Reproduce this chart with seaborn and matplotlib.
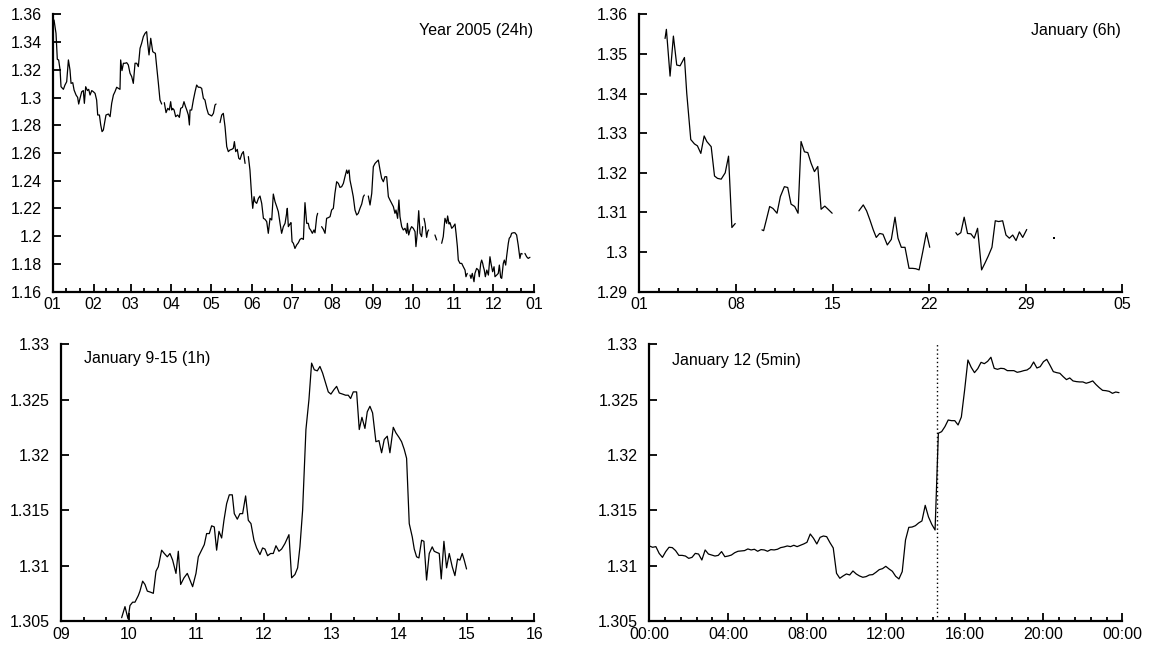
import numpy as np
import pandas as pd
import matplotlib
matplotlib.use("Agg")
import matplotlib.pyplot as plt
import seaborn as sns
from matplotlib.ticker import FuncFormatter

nan = np.nan

# ---------------- Panel 1: Year 2005, daily (day of year) ----------------
p1_day = [
    1.0, 2.5, 3.5, 4.5, 5.6, 6.3, 8.1, 9.3, 10.6, 11.9, 13.1, 13.9, 15.2, 16.2, 17.7, 18.9, 19.7, 20.7, 22.0, 23.2,
    24.0, 25.0, 26.3, 27.3, 28.3, 29.6, 30.8, 32.1, 33.3, 34.1, 35.4, 36.4, 37.4, 38.4, 39.7, 40.4, 42.2, 43.5, 44.7, 46.0,
    47.2, 48.5, 49.8, 51.0, 51.5, 52.5, 53.6, 54.8, 56.1, 57.3, 58.6, 59.9, 61.1, 62.4, 63.7, 64.9, 66.2, 67.4, 68.7, 70.0,
    71.2, 72.0, 73.0, 74.3, 75.8, 76.8, 77.8, 78.8, 80.1, 81.3, 82.6, nan,
    84.6, 85.9, 87.2, 88.4, 89.4, 90.2, 90.9, 92.0, 93.2, 94.7, 96.0, 97.0, 98.3, 99.5, 100.5, 101.6, 102.8, 103.6, 104.1, 105.3,
    106.6, 107.9, 109.1, 110.4, 111.7, 112.9, 114.2, 115.4, 116.7, 118.0, 119.2, 120.5, 121.8, 123.0, 123.8, nan,
    126.8, 128.1, 129.3, 130.6, 131.9, 133.1, 134.4, 135.7, 136.9, 137.7, 138.7, 139.9, 141.0, 142.0, 143.3, 144.5, 145.8, nan,
    148.3, 149.5, 150.8, 151.6, 152.6, 153.3, 154.6, 155.9, 157.1, 158.4, 159.7, 160.9, 162.2, 163.4, 164.7, 166.0, 167.2, 168.5, 169.8, 171.0,
    172.3, 173.5, 174.8, 176.1, 177.3, 177.8, 178.6, 179.8, 180.6, 181.4, 182.4, 183.6, 184.9, 186.2, 187.4, 188.7, 190.0, 191.2, 192.5, 193.7,
    194.5, 195.5, 196.8, 198.0, 198.8, 200.1, 200.8, nan,
    203.8, 205.1, 206.4, 207.6, 208.9, 210.2, 211.4, 212.7, 213.9, 215.2, 216.5, 217.7, 219.0, 220.3, 221.5, 222.8, 223.5, 224.6, 225.3, 226.6,
    227.8, 229.1, 230.4, 231.6, 232.9, 234.2, 235.4, 236.2, nan,
    239.2, 240.5, 241.8, 243.0, 244.3, 245.5, 246.8, 248.1, 249.3, 250.6, 251.8, 253.1, 254.4, 255.6, 256.9, 258.2, 259.4, 260.2, 261.4, 262.4,
    263.2, 264.5, 265.7, 267.0, 268.3, 268.8, 269.8, 270.8, 272.0, 273.3, 274.6, 275.3, 276.3, 277.4, 278.4, 279.6, 280.4, nan,
    281.4, 282.2, 283.4, 284.2, 284.9, nan,
    289.7, 291.0, nan,
    294.8, 296.0, 297.3, 298.6, 299.3, 300.4, 301.1, 302.4, 303.6, 304.9, 305.7, 306.7, 307.4, 308.7, 310.0, 311.2, 312.5, 313.2, 314.2, nan,
    316.3, 317.0, 318.0, 319.3, 320.0, 321.3, 322.6, 323.3, 324.4, 325.1, 325.9, 326.4, 327.1, 327.9, 329.0, 330.2, 331.4, 332.2, 333.4, 334.5,
    335.2, 336.5, 337.7, 338.5, 339.5, 340.3, 341.5, 342.3, 343.3, 344.0, 345.3, 346.0, 347.0, 347.8, 349.1, 350.3, 351.6, 352.8, 354.1, 354.9,
    355.9, nan,
    357.9, 359.2, 360.4, 361.7,
]
p1_rate = [
    1.3559, 1.3463, 1.3275, 1.3271, 1.3199, 1.3078, 1.3059, 1.3090, 1.3114, 1.3271, 1.3199, 1.3102, 1.3107, 1.3054, 1.3018, 1.3001, 1.2953, 1.2994, 1.3042, 1.3050,
    1.2958, 1.3078, 1.3050, 1.3059, 1.3018, 1.3050, 1.3042, 1.3030, 1.2982, 1.2874, 1.2874, 1.2802, 1.2754, 1.2766, 1.2838, 1.2874, 1.2881, 1.2862, 1.2958, 1.3018,
    1.3042, 1.3074, 1.3066, 1.3059, 1.3271, 1.3194, 1.3247, 1.3247, 1.3251, 1.3235, 1.3175, 1.3150, 1.3102, 1.3247, 1.3247, 1.3223, 1.3355, 1.3391, 1.3439, 1.3463,
    1.3475, 1.3391, 1.3307, 1.3427, 1.3331, 1.3324, 1.3319, 1.3223, 1.3102, 1.2982, 1.2953, nan,
    1.2963, 1.2891, 1.2922, 1.2910, 1.2970, 1.2910, 1.2922, 1.2910, 1.2862, 1.2874, 1.2857, 1.2922, 1.2929, 1.2970, 1.2939, 1.2910, 1.2874, 1.2802, 1.2910, 1.2910,
    1.2982, 1.3042, 1.3090, 1.3074, 1.3074, 1.3066, 1.2994, 1.2982, 1.2922, 1.2881, 1.2874, 1.2867, 1.2886, 1.2946, 1.2953, nan,
    1.2819, 1.2874, 1.2886, 1.2790, 1.2646, 1.2610, 1.2622, 1.2626, 1.2634, 1.2682, 1.2610, 1.2626, 1.2562, 1.2554, 1.2593, 1.2610, 1.2525, nan,
    1.2574, 1.2477, 1.2285, 1.2201, 1.2285, 1.2249, 1.2237, 1.2273, 1.2290, 1.2237, 1.2129, 1.2122, 1.2105, 1.2021, 1.2129, 1.2117, 1.2304, 1.2249, 1.2213, 1.2177,
    1.2093, 1.2021, 1.2069, 1.2093, 1.2165, 1.2201, 1.2069, 1.2088, 1.2098, 1.1961, 1.1949, 1.1912, 1.1937, 1.1953, 1.1977, 1.1985, 1.1977, 1.2242, 1.2093, 1.2093,
    1.2057, 1.2045, 1.2021, 1.2045, 1.2025, 1.2141, 1.2165, nan,
    1.2069, 1.2050, 1.2021, 1.2129, 1.2134, 1.2141, 1.2189, 1.2201, 1.2309, 1.2393, 1.2381, 1.2352, 1.2357, 1.2381, 1.2429, 1.2477, 1.2453, 1.2477, 1.2405, 1.2345,
    1.2285, 1.2189, 1.2153, 1.2165, 1.2201, 1.2232, 1.2285, 1.2297, nan,
    1.2290, 1.2225, 1.2309, 1.2501, 1.2525, 1.2537, 1.2549, 1.2477, 1.2417, 1.2393, 1.2429, 1.2429, 1.2285, 1.2261, 1.2237, 1.2213, 1.2165, 1.2189, 1.2129, 1.2261,
    1.2141, 1.2069, 1.2045, 1.2057, 1.2021, 1.2093, 1.2009, 1.2045, 1.2069, 1.2057, 1.2033, 1.1925, 1.2021, 1.2184, 1.2021, 1.1997, 1.2069, nan,
    1.2129, 1.2093, 1.1992, 1.2033, 1.2045, nan,
    1.2009, 1.1973, nan,
    1.1949, 1.1997, 1.2129, 1.2093, 1.2146, 1.2088, 1.2098, 1.2057, 1.2069, 1.2088, 1.2021, 1.1925, 1.1828, 1.1804, 1.1804, 1.1780, 1.1756, 1.1708, 1.1732, nan,
    1.1720, 1.1696, 1.1732, 1.1672, 1.1732, 1.1768, 1.1756, 1.1708, 1.1804, 1.1828, 1.1804, 1.1780, 1.1756, 1.1708, 1.1756, 1.1720, 1.1852, 1.1804, 1.1744, 1.1780,
    1.1708, 1.1720, 1.1732, 1.1792, 1.1703, 1.1696, 1.1804, 1.1828, 1.1792, 1.1852, 1.1949, 1.1985, 1.1997, 1.2021, 1.2025, 1.2025, 1.2009, 1.1937, 1.1840, 1.1876,
    1.1872, nan,
    1.1876, 1.1852, 1.1840, 1.1848,
]
p1_ticks = [0, 31, 59, 90, 120, 151, 181, 212, 243, 273, 304, 334, 365]
p1_ticklabels = ["01", "02", "03", "04", "05", "06", "07", "08", "09", "10", "11", "12", "01"]
p1_yticks = [1.16, 1.18, 1.20, 1.22, 1.24, 1.26, 1.28, 1.30, 1.32, 1.34, 1.36]

# ---------------- Panel 2: January, 6h (hours since Jan 1) ----------------
p2_hour = [
    44.8, 47.1, 53.5, 59.3, 65.1, 70.9, 75.0, 78.5, 82.5, 89.5, 95.9, 101.1, 107.0, 112.8, 117.4, 125.0, 130.8, 136.0, 142.4, 149.4,
    155.2, 161.0, 166.8, nan,
    213.3, 216.2, 220.9, 226.7, 232.5, 239.5, 245.3, 252.3, 258.1, 263.9, 270.3, 276.1, 281.3, 287.2, 293.0, 298.8, 304.6, 310.4, 316.2, 322.6,
    328.4, 335.4, nan,
    381.9, 389.5, 395.3, 401.1, 406.9, 412.1, 418.0, 423.8, 431.3, 438.3, 444.7, 449.9, 455.7, 462.1, 469.1, 474.9, 480.7, 486.6, 493.0, 499.3,
    505.1, nan,
    550.5, 553.4, 559.2, 565.0, 570.8, 576.7, 582.5, 588.3, 595.3, 601.1, 606.9, 613.3, 619.1, 625.0, 631.9, 637.7, 643.6, 649.4, 655.2, 661.0,
    666.8, 673.8, nan,
    721.8,
]
p2_rate = [
    1.3539, 1.3562, 1.3444, 1.3545, 1.3472, 1.3470, 1.3481, 1.3491, 1.3401, 1.3284, 1.3273, 1.3268, 1.3249, 1.3293, 1.3279, 1.3266, 1.3192, 1.3186, 1.3184, 1.3200,
    1.3242, 1.3062, 1.3072, nan,
    1.3056, 1.3054, 1.3081, 1.3115, 1.3110, 1.3098, 1.3140, 1.3165, 1.3163, 1.3121, 1.3115, 1.3098, 1.3279, 1.3253, 1.3251, 1.3224, 1.3203, 1.3216, 1.3108, 1.3116,
    1.3108, 1.3098, nan,
    1.3104, 1.3119, 1.3104, 1.3081, 1.3056, 1.3037, 1.3047, 1.3045, 1.3018, 1.3032, 1.3088, 1.3035, 1.3012, 1.3012, 1.2959, 1.2959, 1.2958, 1.2955, 1.3001, 1.3049,
    1.3012, nan,
    1.3049, 1.3043, 1.3049, 1.3088, 1.3047, 1.3046, 1.3035, 1.3060, 1.2955, 1.2972, 1.2990, 1.3012, 1.3079, 1.3077, 1.3079, 1.3043, 1.3035, 1.3043, 1.3029, 1.3051,
    1.3037, 1.3057, nan,
    1.3036,
]
p2_ticks = [0, 168, 336, 504, 672, 840]
p2_ticklabels = ["01", "08", "15", "22", "29", "05"]
p2_yticks = [1.29, 1.30, 1.31, 1.32, 1.33, 1.34, 1.35, 1.36]

# ---------------- Panel 3: January 9-15, 1h (hours since Jan 9) ----------------
p3_hour = [
    21.53, 22.71, 23.30, 23.78, 24.49, 25.43, 26.26, 27.44, 28.03, 28.98, 29.81, 30.64, 31.82, 32.77, 33.71, 34.54, 35.72, 36.67, 37.73, 38.68,
    39.63, 40.81, 41.64, 42.47, 43.65, 44.83, 45.78, 46.72, 47.91, 48.74, 49.92, 50.86, 51.69, 52.64, 53.47, 54.41, 55.24, 56.07, 57.02, 57.84,
    58.79, 59.74, 60.80, 61.51, 62.58, 63.52, 64.47, 65.53, 66.48, 67.43, 68.49, 69.44, 70.62, 71.56, 72.39, 73.34, 74.40, 75.35, 76.30, 77.36,
    78.31, 79.49,
    80.91, 81.86, 83.04, 83.99, 84.81, 85.76, 86.94, 88.01, 88.95, 89.90, 90.97, 91.91, 92.86, 93.92, 94.87, 95.81, 96.88, 97.83, 98.77, 99.96,
    101.02, 101.97, 102.80, 103.74, 104.93, 105.87, 106.82, 107.88, 108.71, 109.66, 110.60, 111.78, 112.85, 113.80, 114.74, 115.81, 116.75, 117.94, 118.88, 119.95,
    120.89, 121.84, 122.67, 123.61, 124.68, 125.39, 126.22, 127.04, 127.99, 128.82, 129.76, 130.71, 131.77, 132.48, 133.31, 134.26, 134.97, 135.92, 136.86, 137.81,
    138.87, 139.82, 140.76, 141.59, 142.42, 143.13, 143.95,
]
p3_rate = [
    1.3053, 1.3063, 1.3057, 1.3052, 1.3064, 1.3067, 1.3067, 1.3073, 1.3077, 1.3086, 1.3083, 1.3077, 1.3076, 1.3075, 1.3095, 1.3099, 1.3114, 1.3111, 1.3108, 1.3111,
    1.3105, 1.3093, 1.3113, 1.3083, 1.3089, 1.3093, 1.3087, 1.3081, 1.3093, 1.3108, 1.3114, 1.3119, 1.3129, 1.3129, 1.3136, 1.3135, 1.3114, 1.3131, 1.3125, 1.3141,
    1.3156, 1.3164, 1.3164, 1.3147, 1.3142, 1.3147, 1.3147, 1.3163, 1.3141, 1.3138, 1.3123, 1.3116, 1.3110, 1.3116, 1.3115, 1.3109, 1.3111, 1.3111, 1.3118, 1.3113,
    1.3115, 1.3120,
    1.3128, 1.3089, 1.3092, 1.3098, 1.3117, 1.3150, 1.3223, 1.3250, 1.3283, 1.3277, 1.3276, 1.3280, 1.3274, 1.3265, 1.3257, 1.3255, 1.3259, 1.3262, 1.3256, 1.3255,
    1.3254, 1.3254, 1.3251, 1.3257, 1.3257, 1.3223, 1.3234, 1.3224, 1.3239, 1.3244, 1.3238, 1.3212, 1.3213, 1.3202, 1.3214, 1.3217, 1.3202, 1.3225, 1.3220, 1.3216,
    1.3212, 1.3205, 1.3197, 1.3138, 1.3126, 1.3115, 1.3108, 1.3107, 1.3123, 1.3122, 1.3087, 1.3111, 1.3117, 1.3113, 1.3112, 1.3111, 1.3088, 1.3122, 1.3098, 1.3111,
    1.3099, 1.3091, 1.3106, 1.3105, 1.3111, 1.3105, 1.3097,
]
p3_ticks = [0, 24, 48, 72, 96, 120, 144, 168]
p3_ticklabels = ["09", "10", "11", "12", "13", "14", "15", "16"]
small_yticks = [1.305, 1.31, 1.315, 1.32, 1.325, 1.33]

# ---------------- Panel 4: January 12, 5min (sampled every 10 min) ----------------
p4_step_min = 10
p4_rate = [
    1.31178, 1.31166, 1.31172, 1.31111, 1.31075, 1.31127, 1.31166, 1.31163, 1.31136, 1.31093,
    1.31093, 1.31087, 1.31066, 1.31075, 1.31111, 1.31105, 1.31051, 1.31142, 1.31105, 1.31096,
    1.31087, 1.31093, 1.31127, 1.31081, 1.31087, 1.31096, 1.31117, 1.31130, 1.31133, 1.31136,
    1.31151, 1.31142, 1.31148, 1.31130, 1.31145, 1.31142, 1.31130, 1.31145, 1.31142, 1.31148,
    1.31163, 1.31169, 1.31178, 1.31172, 1.31184, 1.31172, 1.31184, 1.31196, 1.31211, 1.31286,
    1.31247, 1.31196, 1.31256, 1.31268, 1.31262, 1.31208, 1.31160, 1.30931, 1.30886, 1.30907,
    1.30925, 1.30916, 1.30952, 1.30925, 1.30907, 1.30895, 1.30901, 1.30916, 1.30919, 1.30940,
    1.30964, 1.30973, 1.30994, 1.30970, 1.30949, 1.30904, 1.30880, 1.30946, 1.31232, 1.31346,
    1.31349, 1.31361, 1.31386, 1.31404, 1.31545, 1.31440, 1.31373, 1.31322, 1.32196, 1.32211,
    1.32256, 1.32316, 1.32310, 1.32310, 1.32271, 1.32343, 1.32587, 1.32858, 1.32792, 1.32744,
    1.32780, 1.32837, 1.32825, 1.32846, 1.32883, 1.32783, 1.32774, 1.32783, 1.32780, 1.32762,
    1.32762, 1.32762, 1.32747, 1.32753, 1.32762, 1.32768, 1.32789, 1.32840, 1.32786, 1.32798,
    1.32843, 1.32864, 1.32810, 1.32753, 1.32744, 1.32738, 1.32708, 1.32681, 1.32696, 1.32669,
    1.32663, 1.32660, 1.32660, 1.32648, 1.32657, 1.32669, 1.32636, 1.32608, 1.32584, 1.32581,
    1.32575, 1.32557, 1.32569, 1.32563,
]
p4_event_hour = 14.6
p4_ticks = [0, 4, 8, 12, 16, 20, 24]
p4_ticklabels = ["00:00", "04:00", "08:00", "12:00", "16:00", "20:00", "00:00"]

titles = ["Year 2005 (24h)", "January (6h)", "January 9-15 (1h)", "January 12 (5min)"]

# ---------------- styling ----------------
sns.set_theme(style="ticks")
plt.rcParams["font.family"] = ["Liberation Sans", "DejaVu Sans"]
plt.rcParams["font.size"] = 11.5
plt.rcParams["axes.edgecolor"] = "black"
plt.rcParams["text.color"] = "black"
plt.rcParams["xtick.color"] = "black"
plt.rcParams["ytick.color"] = "black"
plt.rcParams["axes.labelcolor"] = "black"

W, H = 1150, 649
fig = plt.figure(figsize=(W / 100, H / 100), dpi=100)


def px_axes(left, top, right, bottom):
    return fig.add_axes([left / W, (H - bottom) / H, (right - left) / W, (bottom - top) / H])


ax1 = px_axes(52.7, 14.3, 534.3, 291.7)
ax2 = px_axes(639.3, 14.3, 1122.3, 291.7)
ax3 = px_axes(61.0, 344.3, 534.3, 621.0)
ax4 = px_axes(649.3, 344.3, 1122.3, 621.0)


def fmt(v, pos):
    s = f"{v:.4f}".rstrip("0").rstrip(".")
    return s


def draw(ax, x, y):
    x = np.asarray(x, dtype=float)
    y = np.asarray(y, dtype=float)
    assert len(x) == len(y), (len(x), len(y))
    df = pd.DataFrame({"x": x, "y": y})
    df["seg"] = df["y"].isna().cumsum()
    df = df.dropna()
    sizes = df.groupby("seg")["x"].transform("size")
    multi = df[sizes > 1]
    single = df[sizes == 1]
    sns.lineplot(data=multi, x="x", y="y", units="seg", estimator=None, sort=False,
                 color="black", lw=0.9, ax=ax)
    if len(single):
        sns.scatterplot(data=single, x="x", y="y", color="black", s=3, marker="s",
                        linewidth=0, ax=ax)


def style(ax, xlim, ylim, xticks, xlabels, nminor, yticks):
    ax.set_xlim(xlim)
    ax.set_ylim(ylim)
    ax.set_xticks(xticks)
    ax.set_xticklabels(xlabels)
    minor = []
    for a, b in zip(xticks[:-1], xticks[1:]):
        for k in range(1, nminor):
            minor.append(a + (b - a) * k / nminor)
    ax.set_xticks(minor, minor=True)
    ax.set_yticks(yticks)
    ax.yaxis.set_major_formatter(FuncFormatter(fmt))
    for s in ["top", "right"]:
        ax.spines[s].set_visible(False)
    for s in ["left", "bottom"]:
        ax.spines[s].set_linewidth(1.6)
        ax.spines[s].set_color("black")
    ax.tick_params(which="major", direction="in", length=5.5, width=1.3, colors="black",
                   labelsize=11.5)
    ax.tick_params(which="minor", direction="in", length=3, width=1.3, colors="black")
    ax.tick_params(axis="x", which="major", pad=4)
    ax.tick_params(axis="y", which="major", pad=8)
    ax.set_xlabel("")
    ax.set_ylabel("")
    ax.grid(False)
    ax.set_facecolor("white")


draw(ax1, p1_day, p1_rate)
style(ax1, (0, 365), (1.16, 1.36), p1_ticks, p1_ticklabels, 3, p1_yticks)
ax1.text(0.998, 0.926, titles[0], transform=ax1.transAxes, ha="right", va="baseline", fontsize=11.5)

draw(ax2, p2_hour, p2_rate)
style(ax2, (0, 840), (1.29, 1.36), p2_ticks, p2_ticklabels, 5, p2_yticks)
ax2.text(0.998, 0.926, titles[1], transform=ax2.transAxes, ha="right", va="baseline", fontsize=11.5)

draw(ax3, p3_hour, p3_rate)
style(ax3, (0, 168), (1.305, 1.33), p3_ticks, p3_ticklabels, 3, small_yticks)
ax3.text(0.049, 0.934, titles[2], transform=ax3.transAxes, ha="left", va="baseline", fontsize=11.5)

p4_hour = np.arange(len(p4_rate)) * p4_step_min / 60.0
draw(ax4, p4_hour, p4_rate)
ax4.axvline(p4_event_hour, color="black", lw=1.0, ls=(0, (1, 2)))
style(ax4, (0, 24), (1.305, 1.33), p4_ticks, p4_ticklabels, 5, small_yticks)
ax4.text(0.049, 0.925, titles[3], transform=ax4.transAxes, ha="left", va="baseline", fontsize=11.5)

fig.savefig("out.png", dpi=100, facecolor="white")
